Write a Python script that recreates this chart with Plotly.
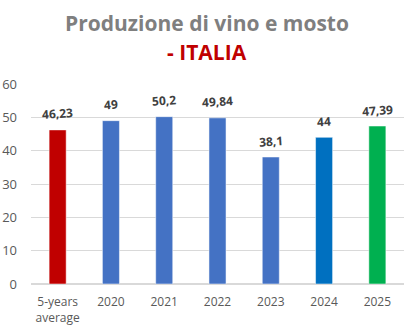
import plotly.graph_objects as go

categories = ["5-years<br>average", "2020", "2021", "2022", "2023", "2024", "2025"]
values = [46.23, 49, 50.2, 49.84, 38.1, 44, 47.39]
labels = ["46,23", "49", "50,2", "49,84", "38,1", "44", "47,39"]
colors = ["#C00000", "#4472C4", "#4472C4", "#4472C4", "#4472C4", "#0070C0", "#00B050"]
title_line1 = "Produzione di vino e mosto"
title_line2 = "- ITALIA"

fig = go.Figure()
fig.add_trace(go.Bar(
    x=categories, y=values,
    marker=dict(color=colors, line=dict(color="rgba(255,255,255,0.5)", width=1)),
    hoverinfo="skip",
))

for i, (v, t) in enumerate(zip(values, labels)):
    fig.add_annotation(x=i, y=v, text="<b>" + t + "</b>", showarrow=False,
                       yshift=16, textangle=-4,
                       font=dict(family="Open Sans", size=12, color="#404040"))

fig.add_annotation(xref="paper", yref="paper", x=0.472, y=1.305, text="<b>" + title_line1 + "</b>",
                   showarrow=False, xanchor="center", yanchor="middle",
                   font=dict(family="Open Sans", size=21, color="#7F7F7F"))
fig.add_annotation(xref="paper", yref="paper", x=0.472, y=1.16, text="<b>" + title_line2 + "</b>",
                   showarrow=False, xanchor="center", yanchor="middle",
                   font=dict(family="Open Sans", size=21, color="#C00000"))

fig.update_layout(
    width=413, height=329,
    margin=dict(l=31, r=9, t=84, b=45),
    paper_bgcolor="white", plot_bgcolor="white",
    bargap=0.68,
    showlegend=False,
    font=dict(family="Open Sans", color="#595959", size=12),
    yaxis=dict(range=[0, 60], dtick=10, showgrid=True, gridcolor="#D9D9D9", gridwidth=1,
               zeroline=True, zerolinecolor="#D9D9D9", ticks="", ticklabelstandoff=13,
               automargin=False,
               tickfont=dict(size=13, color="#595959"), fixedrange=True),
    xaxis=dict(type="category", range=[-0.5, len(categories) - 0.5], showgrid=False, ticks="",
               ticklabelstandoff=9, automargin=False,
               tickfont=dict(size=12, color="#595959"), fixedrange=True, showline=False),
)

fig.write_html("out.html")
